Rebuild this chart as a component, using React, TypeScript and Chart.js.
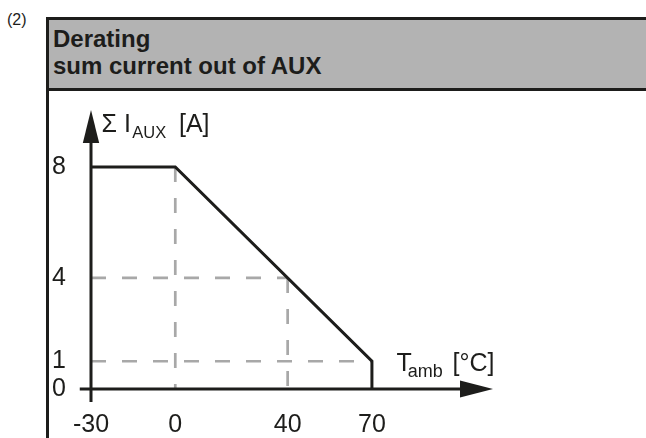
import React, { useEffect, useRef } from "react";
import { Chart, registerables } from "chart.js";

Chart.register(...registerables);

// ---- data ----
const tempC = [-30, 0, 70, 70];
const currentA = [8, 8, 1, 0];
const xTickValues = [-30, 0, 40, 70];
const yTickValues = [0, 1, 4, 8];
const guideAt0Cx = [0, 0];
const guideAt0Cy = [8, 0];
const guideAt40Cx = [40, 40];
const guideAt40Cy = [4, 0];
const guideAt4Ax = [-30, 40];
const guideAt4Ay = [4, 4];
const guideAt1Ax = [-30, 70];
const guideAt1Ay = [1, 1];
const xAxisRange = [-34, 113.1];
const yAxisRange = [-0.47, 10.05];

const FONT = "'Liberation Sans', Arial, sans-serif";
const INK = "#1d1d1b";
const GUIDE = "#a8a8a8";

const pts = (xs: number[], ys: number[]) => xs.map((x, i) => ({ x, y: ys[i] }));

const guide = (xs: number[], ys: number[]) => ({
  data: pts(xs, ys),
  showLine: true,
  borderColor: GUIDE,
  borderWidth: 2.7,
  borderDash: [15, 16],
  pointRadius: 0,
  clip: false as any,
  order: 1,
});

const decorPlugin = {
  id: "axisDecor",
  afterDatasetsDraw(chart: any) {
    const { ctx } = chart;
    const xs = chart.scales.x;
    const ys = chart.scales.y;
    const ox = xs.getPixelForValue(xTickValues[0]);
    const oy = ys.getPixelForValue(0);
    const xStart = xs.getPixelForValue(xAxisRange[0]);
    const xTip = xs.getPixelForValue(xAxisRange[1]);
    const yStart = ys.getPixelForValue(yAxisRange[0]);
    const yTip = ys.getPixelForValue(yAxisRange[1]);
    ctx.save();
    ctx.strokeStyle = INK;
    ctx.fillStyle = INK;
    ctx.lineWidth = 3;
    ctx.lineCap = "butt";
    ctx.beginPath();
    ctx.moveTo(xStart, oy);
    ctx.lineTo(xTip - 20, oy);
    ctx.stroke();
    ctx.beginPath();
    ctx.moveTo(ox, yStart);
    ctx.lineTo(ox, yTip + 20);
    ctx.stroke();
    // arrow heads
    ctx.beginPath();
    ctx.moveTo(xTip, oy);
    ctx.lineTo(xTip - 33, oy - 8.5);
    ctx.lineTo(xTip - 33, oy + 8.5);
    ctx.closePath();
    ctx.fill();
    ctx.beginPath();
    ctx.moveTo(ox, yTip);
    ctx.lineTo(ox - 8.2, yTip + 33);
    ctx.lineTo(ox + 8.2, yTip + 33);
    ctx.closePath();
    ctx.fill();

    // y axis title: Σ I_AUX [A]
    ctx.textAlign = "left";
    ctx.textBaseline = "alphabetic";
    let cx = ox + 10.5;
    const yb = yTip + 22;
    ctx.font = `25px ${FONT}`;
    ctx.fillText("Σ I", cx, yb);
    cx += ctx.measureText("Σ I").width + 1.5;
    ctx.font = `16.5px ${FONT}`;
    ctx.fillText("AUX", cx, yb + 6);
    cx += ctx.measureText("AUX").width;
    ctx.font = `25px ${FONT}`;
    ctx.textAlign = "right";
    ctx.fillText("[A]", ox + 118.5, yb);

    // x axis title: T_amb [°C]
    ctx.textAlign = "left";
    const xb = oy - 18;
    let tx = xTip - 96.5;
    ctx.font = `25px ${FONT}`;
    ctx.fillText("T", tx, xb);
    tx += ctx.measureText("T").width - 4;
    ctx.font = `18px ${FONT}`;
    ctx.fillText("amb", tx, xb + 6);
    ctx.font = `25px ${FONT}`;
    ctx.textAlign = "right";
    ctx.fillText("[°C]", xTip + 1.5, xb);
    ctx.restore();
  },
};

export default function App() {
  const ref = useRef<HTMLCanvasElement>(null);

  useEffect(() => {
    const chart = new Chart(ref.current as HTMLCanvasElement, {
      type: "scatter",
      data: {
        datasets: [
          {
            data: pts(tempC, currentA),
            showLine: true,
            borderColor: INK,
            borderWidth: 3,
            borderJoinStyle: "miter",
            pointRadius: 0,
            clip: false as any,
            order: 0,
          } as any,
          guide(guideAt0Cx, guideAt0Cy),
          guide(guideAt40Cx, guideAt40Cy),
          guide(guideAt4Ax, guideAt4Ay),
          guide(guideAt1Ax, guideAt1Ay),
        ],
      },
      options: {
        responsive: false,
        animation: false,
        events: [],
        layout: { padding: { top: 110, right: 153, left: 0, bottom: 0 } },
        plugins: { legend: { display: false }, tooltip: { enabled: false }, title: { display: false } },
        scales: {
          x: {
            type: "linear",
            min: -30,
            max: xAxisRange[1],
            grid: { display: false, drawTicks: false },
            border: { display: false },
            afterBuildTicks: (s: any) => {
              s.ticks = xTickValues.map((v) => ({ value: v }));
            },
            afterFit: (s: any) => {
              s.height = 49;
            },
            ticks: {
              autoSkip: false,
              maxRotation: 0,
              padding: 21,
              color: INK,
              font: { family: FONT, size: 25 },
              callback: (v: any) => String(v),
            },
          },
          y: {
            type: "linear",
            min: 0,
            max: yAxisRange[1],
            grid: { display: false, drawTicks: false },
            border: { display: false },
            afterBuildTicks: (s: any) => {
              s.ticks = yTickValues.map((v) => ({ value: v }));
            },
            afterFit: (s: any) => {
              s.width = 91;
            },
            ticks: {
              autoSkip: false,
              padding: 25,
              color: INK,
              font: { family: FONT, size: 25 },
              callback: (v: any) => String(v),
            },
          },
        },
      } as any,
      plugins: [decorPlugin],
    });
    return () => chart.destroy();
  }, []);

  return (
    <div
      style={{
        position: "fixed",
        left: 0,
        top: 0,
        width: 646,
        height: 438,
        background: "#fff",
        overflow: "hidden",
        fontFamily: FONT,
        color: INK,
      }}
    >
      <div style={{ position: "absolute", left: 7, top: 11, fontSize: 16, lineHeight: "18px" }}>(2)</div>
      <div
        style={{
          position: "absolute",
          left: 46,
          top: 17,
          width: 640,
          height: 74,
          boxSizing: "border-box",
          background: "#b3b3b3",
          borderTop: `3px solid ${INK}`,
          borderBottom: `3px solid ${INK}`,
          borderLeft: `3px solid ${INK}`,
        }}
      />
      <div
        style={{
          position: "absolute",
          left: 53,
          top: 25,
          fontSize: 24,
          fontWeight: "bold",
          lineHeight: "27px",
          whiteSpace: "nowrap",
        }}
      >
        <div>Derating</div>
        <div>sum current out of AUX</div>
      </div>
      <div style={{ position: "absolute", left: 46, top: 91, width: 3, height: 347, background: INK }} />
      <canvas
        ref={ref}
        width={646}
        height={438}
        style={{ position: "absolute", left: 0, top: 0, width: 646, height: 438 }}
      />
    </div>
  );
}
